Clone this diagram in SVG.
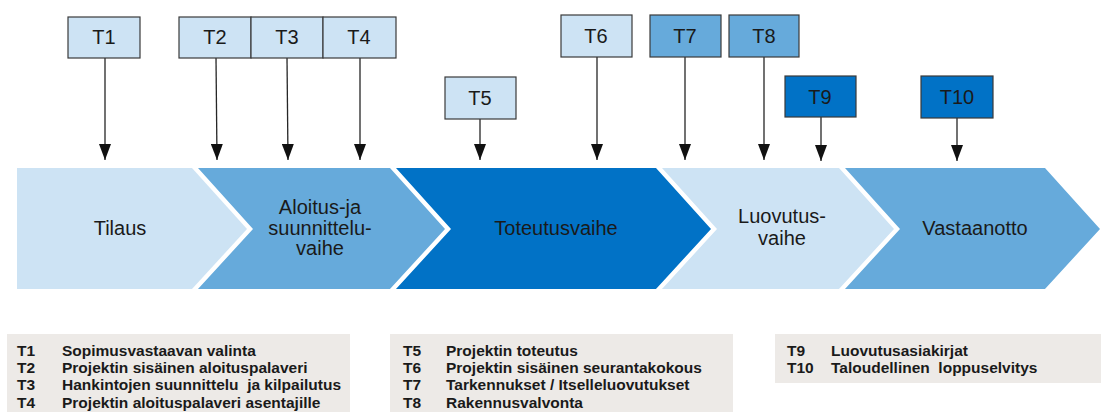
<svg xmlns="http://www.w3.org/2000/svg" width="1101" height="412" viewBox="0 0 1101 412">
<defs>
<style>
.box{stroke:#3a3a3a;stroke-width:1.2}
.lt{fill:#CDE3F4}
.md{fill:#66AADB}
.dk{fill:#0172C6}
.bl{font-family:"Liberation Sans",Arial,sans-serif;font-size:20px;fill:#1a1a1a;text-anchor:middle}
.ph{font-family:"Liberation Sans",Arial,sans-serif;font-size:20px;fill:#1a1a1a;text-anchor:middle}
.lg{font-family:"Liberation Sans",Arial,sans-serif;font-size:15.5px;font-weight:bold;fill:#1a1a1a}
.cn{stroke:#262626;stroke-width:1.3;fill:none}
</style>
<marker id="ah" viewBox="0 0 16 12" refX="16" refY="6" markerWidth="16" markerHeight="12" markerUnits="userSpaceOnUse" orient="auto">
<path d="M0,0 L16,6 L0,12 Z" fill="#111"/>
</marker>
</defs>
<rect width="1101" height="412" fill="#ffffff"/>

<g id="phases">
<g id="phase-tilaus">
<polygon class="lt" points="17,168 192,168 247,229 192,289 17,289"/>
<text class="ph" x="120" y="235">Tilaus</text>
</g>
<g id="phase-aloitus">
<polygon class="md" points="198,168 390,168 445,229 390,289 198,289 253,229"/>
<text class="ph" x="320" y="214">Aloitus-ja</text>
<text class="ph" x="320" y="235">suunnittelu-</text>
<text class="ph" x="320" y="255">vaihe</text>
</g>
<g id="phase-toteutus">
<polygon class="dk" points="396,168 656,168 711,229 656,289 396,289 451,229"/>
<text class="ph" x="556" y="235">Toteutusvaihe</text>
</g>
<g id="phase-luovutus">
<polygon class="lt" points="662,168 839,168 894,229 839,289 662,289 717,229"/>
<text class="ph" x="782" y="223">Luovutus-</text>
<text class="ph" x="782" y="245">vaihe</text>
</g>
<g id="phase-vastaanotto">
<polygon class="md" points="845,168 1045,168 1100,229 1045,289 845,289 900,229"/>
<text class="ph" x="975" y="235">Vastaanotto</text>
</g>
</g>

<g id="connectors">
<line class="cn" x1="105" y1="58" x2="105" y2="160" marker-end="url(#ah)"/>
<line class="cn" x1="216" y1="58" x2="217" y2="160" marker-end="url(#ah)"/>
<line class="cn" x1="287" y1="58" x2="288" y2="160" marker-end="url(#ah)"/>
<line class="cn" x1="360" y1="58" x2="360" y2="160" marker-end="url(#ah)"/>
<line class="cn" x1="480" y1="119" x2="480" y2="160" marker-end="url(#ah)"/>
<line class="cn" x1="597" y1="57" x2="597" y2="160" marker-end="url(#ah)"/>
<line class="cn" x1="685" y1="57" x2="685" y2="160" marker-end="url(#ah)"/>
<line class="cn" x1="764" y1="57" x2="764" y2="160" marker-end="url(#ah)"/>
<line class="cn" x1="821" y1="117" x2="821" y2="161" marker-end="url(#ah)"/>
<line class="cn" x1="957" y1="118" x2="957" y2="161" marker-end="url(#ah)"/>
</g>

<g id="T1"><rect class="box lt" x="68" y="17" width="72" height="41"/><text class="bl" x="104" y="44">T1</text></g>
<g id="T2"><rect class="box lt" x="179" y="17" width="72" height="41"/><text class="bl" x="215" y="44">T2</text></g>
<g id="T3"><rect class="box lt" x="251" y="17" width="72" height="41"/><text class="bl" x="287" y="44">T3</text></g>
<g id="T4"><rect class="box lt" x="323" y="17" width="73" height="41"/><text class="bl" x="359" y="44">T4</text></g>
<g id="T5"><rect class="box lt" x="445" y="77" width="71" height="42"/><text class="bl" x="480" y="105">T5</text></g>
<g id="T6"><rect class="box lt" x="561" y="15" width="71" height="42"/><text class="bl" x="596" y="43">T6</text></g>
<g id="T7"><rect class="box md" x="650" y="15" width="71" height="42"/><text class="bl" x="685" y="43">T7</text></g>
<g id="T8"><rect class="box md" x="729" y="15" width="70" height="42"/><text class="bl" x="764" y="43">T8</text></g>
<g id="T9"><rect class="box dk" x="785" y="76" width="71" height="41"/><text class="bl" x="820" y="104">T9</text></g>
<g id="T10"><rect class="box dk" x="921" y="76" width="72" height="42"/><text class="bl" x="957" y="104">T10</text></g>

<g id="legend-1">
<rect x="7" y="334" width="343" height="78" fill="#EDEAE7"/>
<text class="lg" x="17" y="356">T1</text><text class="lg" x="62" y="356">Sopimusvastaavan valinta</text>
<text class="lg" x="17" y="373">T2</text><text class="lg" x="62" y="373">Projektin sisäinen aloituspalaveri</text>
<text class="lg" x="17" y="390">T3</text><text class="lg" x="62" y="390" xml:space="preserve">Hankintojen suunnittelu  ja kilpailutus</text>
<text class="lg" x="17" y="408">T4</text><text class="lg" x="62" y="408">Projektin aloituspalaveri asentajille</text>
</g>
<g id="legend-2">
<rect x="390" y="334" width="343" height="78" fill="#EDEAE7"/>
<text class="lg" x="403" y="356">T5</text><text class="lg" x="446" y="356">Projektin toteutus</text>
<text class="lg" x="403" y="373">T6</text><text class="lg" x="446" y="373">Projektin sisäinen seurantakokous</text>
<text class="lg" x="403" y="390">T7</text><text class="lg" x="446" y="390">Tarkennukset / Itselleluovutukset</text>
<text class="lg" x="403" y="408">T8</text><text class="lg" x="446" y="408">Rakennusvalvonta</text>
</g>
<g id="legend-3">
<rect x="775" y="334" width="326" height="49" fill="#EDEAE7"/>
<text class="lg" x="787" y="356">T9</text><text class="lg" x="831" y="356">Luovutusasiakirjat</text>
<text class="lg" x="787" y="373">T10</text><text class="lg" x="831" y="373" xml:space="preserve">Taloudellinen  loppuselvitys</text>
</g>
</svg>
